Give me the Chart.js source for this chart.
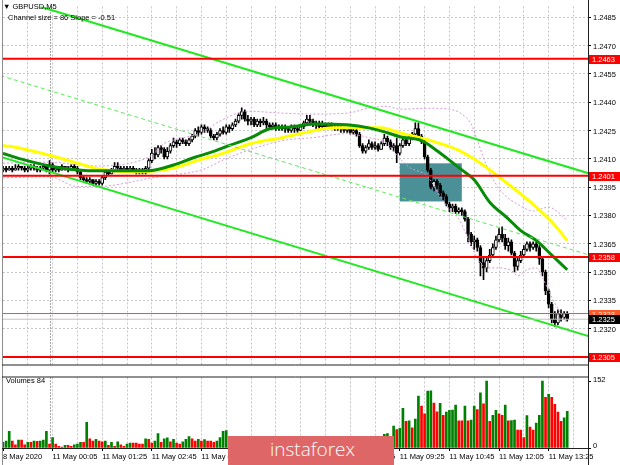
<!DOCTYPE html>
<html>
<head>
<meta charset="utf-8">
<script src="https://cdn.jsdelivr.net/npm/chart.js@4.4.1/dist/chart.umd.min.js"></script>
<style>
  body { margin: 0; background: #fff; }
  #wrap { position: relative; width: 620px; height: 465px; overflow: hidden; background: #fff; }
  canvas { position: absolute; left: 0; }
  .txt { position: absolute; font: 7.5px 'Liberation Sans', Arial, sans-serif; line-height: 9px; color: #000; white-space: pre; }
  #logo { position: absolute; left: 228px; top: 436px; width: 166px; height: 29px; box-sizing: border-box;
          padding-left: 42px; background: #df6666; color: #fff; font: 300 19px 'Open Sans', sans-serif; line-height: 27px; }
</style>
</head>
<body>
<div id="wrap">
  <canvas id="price" width="620" height="371" style="top:0"></canvas>
  <canvas id="volume" width="620" height="94" style="top:371px"></canvas>
  <div class="txt" style="left:3px;top:2px">▼ GBPUSD,M5</div>
  <div class="txt" style="left:8px;top:13px">Channel size = 86 Slope = -0.51</div>
  <div class="txt" style="left:6px;top:376px">Volumes 84</div>
  <div id="logo">instaforex</div>
</div>
<script>
// bars are numbered in 5-minute steps from 11 May 00:00 (negative = 8 May)
const firstBar = -15;
const firstOpen = 1.2404;

const closes = [
  1.2405,1.2404,1.2405,1.2404,1.2405,1.2406,1.2405,1.2404,1.2405,1.2406,
  1.2405,1.2404,1.2405,1.2406,1.2404,1.2407,1.2404,1.2405,1.2404,1.2406,
  1.2405,1.2404,1.2406,1.2405,1.2403,1.2400,1.2399,1.2398,1.2399,1.2397,
  1.2398,1.2397,1.2400,1.2403,1.2402,1.2404,1.2406,1.2405,1.2404,1.2405,
  1.2404,1.2405,1.2404,1.2403,1.2404,1.2403,1.2405,1.2409,1.2413,1.2412,
  1.2416,1.2415,1.2411,1.2414,1.2417,1.2419,1.2418,1.2420,1.2419,1.2418,
  1.2420,1.2422,1.2425,1.2424,1.2427,1.2426,1.2425,1.2422,1.2421,1.2423,
  1.2425,1.2424,1.2427,1.2426,1.2428,1.2430,1.2433,1.2435,1.2431,1.2430,
  1.2431,1.2428,1.2430,1.2429,1.2430,1.2428,1.2427,1.2428,1.2427,1.2426,
  1.2427,1.2426,1.2425,1.2427,1.2426,1.2425,1.2427,1.2429,1.2431,1.2430,
  1.2428,1.2429,1.2427,1.2428,1.2427,1.2428,1.2427,1.2426,1.2427,1.2426,
  1.2425,1.2426,1.2424,1.2425,1.2423,1.2417,1.2414,1.2416,1.2418,1.2416,
  1.2417,1.2415,1.2418,1.2421,1.2419,1.2416,1.2417,1.2413,1.2417,1.2420,
  1.2418,1.2421,1.2423,1.2426,1.2422,1.2419,1.2411,1.2404,1.2395,1.2398,
  1.2396,1.2392,1.2390,1.2386,1.2384,1.2385,1.2382,1.2383,1.2382,1.2378,
  1.2370,1.2366,1.2367,1.2363,1.2355,1.2352,1.2356,1.2359,1.2363,1.2367,
  1.2370,1.2368,1.2364,1.2366,1.2360,1.2353,1.2356,1.2359,1.2362,1.2365,
  1.2363,1.2365,1.2363,1.2357,1.2350,1.2340,1.2333,1.2325,1.2323,1.2328,
  1.2326,1.2328,1.2325
];
const highs = [
  1.2406,1.2406,1.2406,1.2406,1.2407,1.2407,1.2406,1.2406,1.2406,1.2407,
  1.2407,1.2406,1.2406,1.2407,1.2407,1.2409,1.2408,1.2406,1.2406,1.2407,
  1.2406,1.2406,1.2407,1.2407,1.2406,1.2404,1.2401,1.2400,1.2400,1.2399,
  1.2399,1.2399,1.2401,1.2404,1.2404,1.2405,1.2408,1.2408,1.2406,1.2406,
  1.2406,1.2406,1.2406,1.2405,1.2405,1.2405,1.2406,1.2410,1.2415,1.2416,
  1.2417,1.2417,1.2416,1.2416,1.2418,1.2421,1.2420,1.2421,1.2421,1.2420,
  1.2421,1.2423,1.2426,1.2427,1.2428,1.2428,1.2427,1.2426,1.2423,1.2424,
  1.2426,1.2427,1.2428,1.2428,1.2429,1.2431,1.2434,1.2437,1.2436,1.2433,
  1.2432,1.2432,1.2431,1.2431,1.2432,1.2431,1.2429,1.2429,1.2429,1.2428,
  1.2428,1.2428,1.2427,1.2428,1.2428,1.2427,1.2428,1.2430,1.2433,1.2433,
  1.2431,1.2430,1.2430,1.2430,1.2429,1.2429,1.2429,1.2428,1.2428,1.2428,
  1.2427,1.2427,1.2427,1.2426,1.2426,1.2424,1.2418,1.2417,1.2420,1.2419,
  1.2419,1.2418,1.2419,1.2423,1.2422,1.2420,1.2418,1.2421,1.2418,1.2421,
  1.2421,1.2422,1.2424,1.2429,1.2429,1.2423,1.2420,1.2412,1.2405,1.2399,
  1.2399,1.2397,1.2393,1.2391,1.2387,1.2386,1.2386,1.2384,1.2384,1.2383,
  1.2379,1.2371,1.2369,1.2368,1.2364,1.2358,1.2358,1.2362,1.2365,1.2369,
  1.2373,1.2374,1.2370,1.2368,1.2367,1.2361,1.2358,1.2361,1.2364,1.2366,
  1.2366,1.2366,1.2366,1.2364,1.2358,1.2351,1.2341,1.2334,1.2329,1.2330,
  1.2330,1.2329,1.2329
];
const lows = [
  1.2403,1.2403,1.2404,1.2403,1.2404,1.2404,1.2404,1.2403,1.2403,1.2404,
  1.2404,1.2403,1.2403,1.2404,1.2403,1.2402,1.2403,1.2403,1.2403,1.2404,
  1.2404,1.2403,1.2404,1.2404,1.2402,1.2399,1.2398,1.2397,1.2397,1.2396,
  1.2396,1.2396,1.2396,1.2399,1.2401,1.2402,1.2403,1.2404,1.2403,1.2404,
  1.2403,1.2403,1.2403,1.2402,1.2402,1.2402,1.2402,1.2404,1.2408,1.2410,
  1.2411,1.2413,1.2410,1.2410,1.2413,1.2416,1.2416,1.2417,1.2418,1.2417,
  1.2417,1.2419,1.2421,1.2422,1.2423,1.2424,1.2424,1.2421,1.2420,1.2420,
  1.2422,1.2423,1.2423,1.2424,1.2425,1.2427,1.2429,1.2431,1.2430,1.2428,
  1.2428,1.2427,1.2427,1.2427,1.2428,1.2426,1.2426,1.2426,1.2425,1.2425,
  1.2425,1.2424,1.2424,1.2424,1.2424,1.2424,1.2425,1.2426,1.2428,1.2428,
  1.2427,1.2426,1.2426,1.2426,1.2426,1.2426,1.2426,1.2425,1.2425,1.2424,
  1.2424,1.2424,1.2423,1.2423,1.2422,1.2416,1.2413,1.2413,1.2415,1.2415,
  1.2415,1.2414,1.2415,1.2417,1.2417,1.2415,1.2414,1.2408,1.2412,1.2416,
  1.2417,1.2417,1.2420,1.2421,1.2421,1.2418,1.2410,1.2403,1.2394,1.2393,
  1.2394,1.2390,1.2388,1.2385,1.2382,1.2382,1.2381,1.2381,1.2380,1.2377,
  1.2366,1.2364,1.2362,1.2361,1.2348,1.2346,1.2350,1.2355,1.2358,1.2362,
  1.2366,1.2366,1.2362,1.2361,1.2359,1.2350,1.2351,1.2355,1.2358,1.2361,
  1.2361,1.2362,1.2361,1.2354,1.2348,1.2338,1.2331,1.2323,1.2321,1.2322,
  1.2324,1.2325,1.2324
];
const volumes = [
  13,16,38,16,7,18,18,7,13,13,
  16,15,16,18,38,9,24,9,4,2,
  6,6,4,7,9,13,13,59,21,16,
  20,16,14,16,6,13,4,14,7,4,
  9,11,11,11,9,9,21,20,11,16,
  33,13,21,23,14,20,11,9,14,20,
  26,21,16,20,16,19,16,16,13,16,
  24,38,40,22,18,25,24,23,20,16,
  14,18,12,15,11,14,9,12,10,8,
  11,9,13,10,12,9,14,17,22,15,
  13,11,14,9,12,10,8,11,9,12,
  10,13,11,15,14,24,25,18,20,16,
  19,17,24,31,33,20,50,42,45,91,
  61,62,46,66,119,96,78,130,131,103,
  83,102,75,82,86,87,98,62,62,96,
  62,64,96,88,126,101,153,61,75,86,
  78,75,98,62,63,64,41,41,24,74,
  48,41,57,75,153,116,123,116,100,82,
  61,69,84
];

// indicator lines: [bar, price]
const maSlow = [[-15,1.24171],[-9,1.24155],[0,1.24119],[9,1.24077],[16,1.24046],[29,1.24031],[40,1.24051],
  [49,1.24098],[55,1.24124],[65,1.24181],[75,1.24212],[85,1.24248],[91,1.24264],[99,1.24264],[107,1.24264],
  [113,1.24238],[123,1.24196],[132,1.24145],[139,1.24077],[149,1.23953],[157,1.23844],[162,1.23766],[167,1.23667]];
const maFast = [[-15,1.24129],[-9,1.24098],[0,1.24062],[9,1.24041],[16,1.24036],[29,1.24036],[34,1.24041],
  [40,1.24067],[46,1.24103],[52,1.24134],[58,1.24171],[65,1.24212],[71,1.24259],[78,1.24269],[85,1.24285],
  [96,1.24280],[103,1.24264],[109,1.24238],[113,1.24217],[120,1.24196],[124,1.24155],[129,1.24093],
  [133,1.24041],[137,1.23989],[142,1.23870],[148,1.23782],[152,1.23719],[157,1.23667],[162,1.23590],[167,1.23512]];
const bandUpper = [[-15,1.24077],[0,1.24082],[10,1.24067],[16,1.24062],[26,1.24077],[33,1.24119],[37,1.24181],
  [42,1.24207],[49,1.24238],[55,1.24300],[64,1.24352],[75,1.24342],[85,1.24337],[96,1.24342],[103,1.24368],
  [109,1.24378],[113,1.24363],[123,1.24368],[129,1.24363],[133,1.24337],[136,1.24285],[138,1.24196],
  [142,1.24025],[146,1.23922],[152,1.23850],[156,1.23823],[161,1.23844],[164,1.23818],[167,1.23771]];
const bandLower = [[-15,1.23999],[0,1.24005],[9,1.23953],[16,1.23953],[27,1.23979],[33,1.23999],[40,1.24015],
  [49,1.24041],[58,1.24108],[75,1.24196],[85,1.24212],[96,1.24233],[103,1.24212],[109,1.24181],[112,1.24119],
  [116,1.24056],[122,1.24005],[126,1.23901],[129,1.23833],[132,1.23782],[135,1.23678],[138,1.23574],
  [141,1.23522],[145,1.23522],[149,1.23507],[151,1.23481],[154,1.23512],[157,1.23522],[159,1.23470],
  [162,1.23367],[165,1.23278],[167,1.23227]];

// regression channel, read at two points each
const channelTop = [[-2.9,1.24906],[173.9,1.24023]];
const channelMid = [[-15.8,1.24541],[173.9,1.23591]];
const channelBottom = [[-15.8,1.24111],[173.9,1.23160]];

const levels = [1.2463, 1.2401, 1.2358, 1.2305];
const askPrice = 1.2328;
const bidPrice = 1.2325;
const zoneBars = [113, 133];
const zonePrices = [1.24076, 1.23874];
const daySeparatorBar = 0;

const priceTicks = [1.2485,1.2470,1.2455,1.2440,1.2425,1.2410,1.2395,1.2380,1.2365,1.2350,1.2335,1.2320];
const volumeTicks = [0, 152];
const timeTickBars = [-15, 1, 17, 33, 49, 65, 81, 97, 113, 129, 145, 161];
const timeLabels = ['8 May 2020','11 May 00:05','11 May 01:25','11 May 02:45','11 May 04:05','11 May 05:25',
  '11 May 06:45','11 May 08:05','11 May 09:25','11 May 10:45','11 May 12:05','11 May 13:25'];

const X_MIN = -15, X_MAX = 173.7;
const Y_MIN = 1.2301, Y_MAX = 1.24907;
const FONT = { family: "'Liberation Sans', Arial, sans-serif", size: 7.5 };
const GRID = '#c6c6c6';

const gridBars = [];
for (let b = -7; b <= 169; b += 8) gridBars.push(b);

const bars = closes.map((_, k) => firstBar + k);
const opens = closes.map((c, k) => (k === 0 ? firstOpen : closes[k - 1]));

const line = (pts, color, width, dash, order, smooth) => ({
  type: 'line',
  data: pts.map(([x, y]) => ({ x, y })),
  borderColor: color,
  borderWidth: width,
  borderDash: dash,
  pointRadius: 0,
  fill: false,
  cubicInterpolationMode: smooth ? 'monotone' : 'default',
  tension: 0,
  order
});
const hline = (price, color, width, order) => line([[X_MIN, price], [X_MAX, price]], color, width, [], order);

// dotted day separator + window frame, shared by both panes
const framePlugin = {
  id: 'frame',
  beforeDatasetsDraw(chart) {
    const { ctx, chartArea: a, scales: { x } } = chart;
    const sx = Math.round(x.getPixelForValue(daySeparatorBar)) + 0.5;
    ctx.save();
    ctx.strokeStyle = '#555';
    ctx.setLineDash([1, 2]);
    ctx.beginPath();
    ctx.moveTo(sx, a.top);
    ctx.lineTo(sx, a.bottom);
    ctx.stroke();
    ctx.restore();
  },
  afterDatasetsDraw(chart) {
    const { ctx, chartArea: a } = chart;
    ctx.save();
    ctx.lineWidth = 1;
    ctx.strokeStyle = '#8c8c8c';
    ctx.beginPath();
    ctx.moveTo(a.left - 0.5, 0);
    ctx.lineTo(a.left - 0.5, chart.height);
    ctx.stroke();
    ctx.strokeStyle = '#202020';
    ctx.beginPath();
    ctx.moveTo(a.right + 0.5, 0);
    ctx.lineTo(a.right + 0.5, chart.height);
    ctx.moveTo(a.left - 1, a.bottom + 0.5);
    ctx.lineTo(a.right + 1, a.bottom + 0.5);
    if (chart.canvas.id === 'volume') {
      ctx.moveTo(a.left - 1, a.top - 0.5);
      ctx.lineTo(a.right + 1, a.top - 0.5);
    }
    ctx.stroke();
    ctx.restore();
  }
};

// shaded zone under the candles and price tags on the axis
const pricePlugin = {
  id: 'priceExtras',
  beforeDatasetsDraw(chart) {
    const { ctx, scales: { x, y } } = chart;
    const x1 = x.getPixelForValue(zoneBars[0]), x2 = x.getPixelForValue(zoneBars[1]);
    const y1 = y.getPixelForValue(zonePrices[0]), y2 = y.getPixelForValue(zonePrices[1]);
    ctx.save();
    ctx.fillStyle = '#4b8f97';
    ctx.fillRect(x1, y1, x2 - x1, y2 - y1);
    ctx.restore();
  },
  afterDraw(chart) {
    const { ctx, chartArea: a, scales: { y } } = chart;
    const tag = (price, bg, fg) => {
      const py = Math.round(y.getPixelForValue(price));
      ctx.fillStyle = bg;
      ctx.fillRect(a.right + 1, py - 4, chart.width - a.right - 1, 9);
      ctx.fillStyle = fg;
      ctx.fillText(price.toFixed(4), a.right + 4, py + 0.5);
    };
    ctx.save();
    ctx.font = `${FONT.size}px ${FONT.family}`;
    ctx.textBaseline = 'middle';
    levels.forEach(l => tag(l, '#ff0000', '#ffffff'));
    tag(askPrice, '#ff5a2a', '#ffe0d0');
    tag(bidPrice, '#000000', '#ffffff');
    ctx.restore();
  }
};

new Chart(document.getElementById('price'), {
  type: 'bar',
  data: {
    datasets: [
      {
        type: 'bar',
        data: bars.map((b, k) => ({ x: b, y: [lows[k], highs[k]] })),
        backgroundColor: '#000',
        barThickness: 1,
        grouped: false,
        order: 10
      },
      {
        type: 'bar',
        data: bars.map((b, k) => ({ x: b, y: [opens[k], closes[k]] })),
        backgroundColor: ctx => (closes[ctx.dataIndex] >= opens[ctx.dataIndex] ? '#fff' : '#000'),
        borderColor: '#000',
        borderWidth: 1,
        borderSkipped: false,
        barThickness: 3,
        minBarLength: 1,
        grouped: false,
        order: 9
      },
      line(bandUpper, '#d79ad9', 1, [2, 2], 8, true),
      line(bandLower, '#d79ad9', 1, [2, 2], 8, true),
      line(maSlow, '#ffff00', 3, [], 7, true),
      line(maFast, '#078c07', 3, [], 6, true),
      line(channelMid, '#5fe85f', 1, [4, 3], 5, false),
      line(channelTop, '#22e822', 2, [], 4, false),
      line(channelBottom, '#22e822', 2, [], 4, false),
      hline(bidPrice, '#c0c0c0', 1, 3),
      hline(askPrice, '#ff4a2a', 1, 3),
      ...levels.map(l => hline(l, '#ff0000', 2, 2))
    ]
  },
  options: {
    responsive: false,
    animation: false,
    events: [],
    layout: { padding: { left: 3, top: 2, right: 0, bottom: 2 } },
    plugins: { legend: { display: false }, tooltip: { enabled: false } },
    scales: {
      x: {
        type: 'linear', min: X_MIN, max: X_MAX, offset: false,
        afterBuildTicks: s => { s.ticks = gridBars.map(v => ({ value: v })); },
        afterFit: s => { s.height = 0; },
        ticks: { display: false },
        grid: { color: GRID, drawTicks: false, offset: false },
        border: { display: false, dash: [2, 2] }
      },
      y: {
        type: 'linear', position: 'right', min: Y_MIN, max: Y_MAX,
        afterBuildTicks: s => { s.ticks = priceTicks.map(v => ({ value: v })); },
        afterFit: s => { s.width = 32; },
        ticks: { font: FONT, color: '#000', padding: 2, labelOffset: 1, callback: v => v.toFixed(4) },
        grid: { color: GRID, tickColor: '#000', tickLength: 3 },
        border: { display: false, dash: [2, 2] }
      }
    }
  },
  plugins: [pricePlugin, framePlugin]
});

new Chart(document.getElementById('volume'), {
  type: 'bar',
  data: {
    datasets: [{
      data: volumes.map((v, k) => ({ x: firstBar + k, y: v })),
      backgroundColor: volumes.map((v, k) => (k === 0 || v > volumes[k - 1] ? '#008000' : '#ff0000')),
      barThickness: 2,
      grouped: false
    }]
  },
  options: {
    responsive: false,
    animation: false,
    events: [],
    layout: { padding: { left: 3, top: 2, right: 0, bottom: 0 } },
    plugins: { legend: { display: false }, tooltip: { enabled: false } },
    scales: {
      x: {
        type: 'linear', min: X_MIN, max: X_MAX, offset: false,
        afterBuildTicks: s => {
          const all = [...new Set([...timeTickBars, ...gridBars])].sort((a, b) => a - b);
          s.ticks = all.map(v => ({ value: v }));
        },
        afterFit: s => { s.height = 17; },
        ticks: {
          font: FONT, color: '#000', padding: 1, align: 'start', autoSkip: false, maxRotation: 0,
          callback: v => { const j = timeTickBars.indexOf(v); return j >= 0 ? timeLabels[j] : ''; }
        },
        grid: {
          color: ctx => (ctx.tick && ctx.tick.value === firstBar ? 'transparent' : GRID),
          tickColor: ctx => (ctx.tick && timeTickBars.includes(ctx.tick.value) ? '#000' : 'transparent'),
          tickLength: 3, offset: false
        },
        border: { display: false, dash: [2, 2] }
      },
      y: {
        type: 'linear', position: 'right', min: 0, max: 161.3,
        afterBuildTicks: s => { s.ticks = volumeTicks.map(v => ({ value: v })); },
        afterFit: s => { s.width = 32; },
        ticks: { font: FONT, color: '#000', padding: 2, labelOffset: -2 },
        grid: { drawOnChartArea: false, tickColor: '#000', tickLength: 3 },
        border: { display: false }
      }
    }
  },
  plugins: [framePlugin]
});
</script>
</body>
</html>
